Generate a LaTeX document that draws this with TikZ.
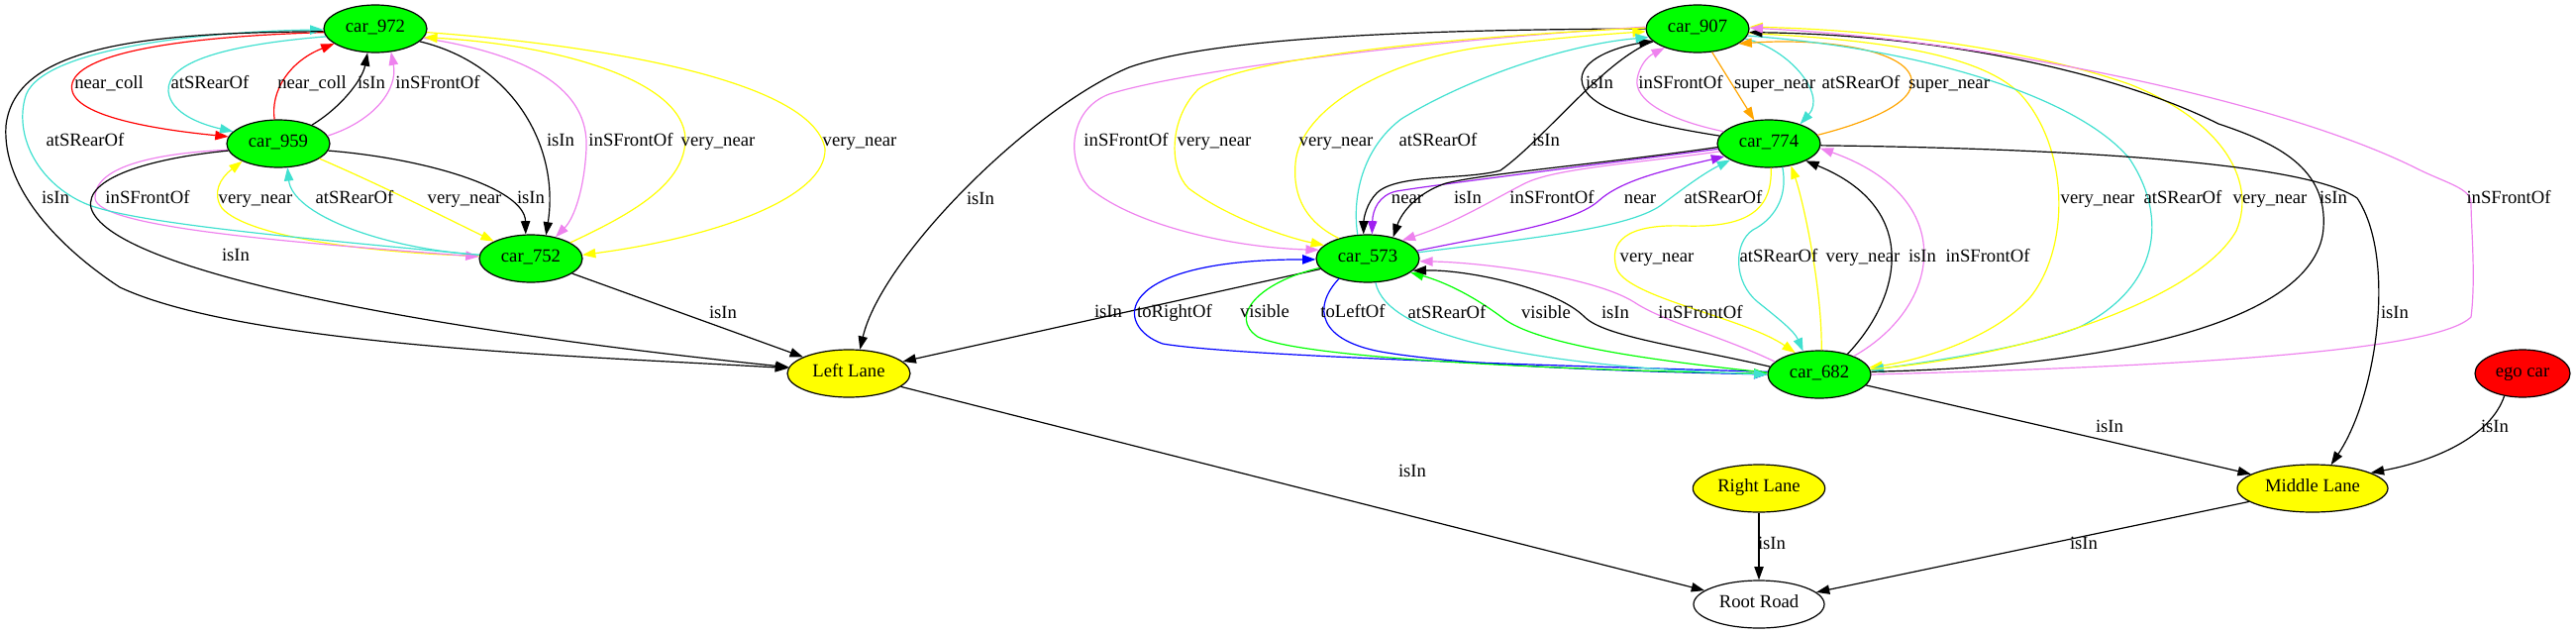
\documentclass[tikz,border=0pt]{standalone}
\usepackage{fontspec}
\setmainfont{Liberation Serif}
\usetikzlibrary{shapes.geometric,arrows.meta}
\definecolor{gvgreen}{HTML}{00FF00}
\definecolor{gvyellow}{HTML}{FFFF00}
\definecolor{gvred}{HTML}{FF0000}
\definecolor{gvturq}{HTML}{40E0D0}
\definecolor{gvviolet}{HTML}{EE82EE}
\definecolor{gvorange}{HTML}{FFA500}
\definecolor{gvpurple}{HTML}{A020F0}
\definecolor{gvblue}{HTML}{0000FF}
\tikzset{
  gvfont/.style={font=\fontsize{14pt}{16pt}\selectfont},
  gvnode/.style={ellipse, draw=black, line width=0.9pt, inner sep=0pt, minimum height=36pt, gvfont, text height=1.5ex, text depth=.25ex},
  car/.style={gvnode, fill=gvgreen, minimum width=78pt},
  lane/.style={gvnode, fill=gvyellow},
  lab/.style={gvfont, inner sep=0pt, text height=1.5ex, text depth=.25ex},
  edg/.style={-{Triangle[length=10pt,width=7pt]}, line width=0.9pt},
}
\begin{document}
\begin{tikzpicture}[x=0.75pt,y=-0.75pt]
\useasboundingbox (0,0) rectangle (2601,639);
% nodes
\node[car] (n972) at (379,29) {car\_972};
\node[car] (n959) at (281,145) {car\_959};
\node[car] (n752) at (536,261) {car\_752};
\node[lane, minimum width=93pt] (nLeft) at (857,377) {Left Lane};
\node[car] (n907) at (1714,29) {car\_907};
\node[car] (n774) at (1786,145) {car\_774};
\node[car] (n573) at (1381,261) {car\_573};
\node[car] (n682) at (1837,378) {car\_682};
\node[gvnode, fill=gvred, minimum width=72pt] (nEgo) at (2547,377) {ego car};
\node[lane, minimum width=100pt] (nRight) at (1776,493) {Right Lane};
\node[lane, minimum width=114pt] (nMiddle) at (2335,493) {Middle Lane};
\node[gvnode, fill=white, minimum width=99pt] (nRoot) at (1776,610) {Root Road};

% left cluster
\draw[edg,color=gvred] (n959.99) .. controls (273,92) and (292,62) .. (n972.200);
\draw[edg] (n959.29) .. controls (345,108) and (366,80) .. (n972.252);
\draw[edg,color=gvviolet] (n959.9) .. controls (378,122) and (402,90) .. (n972.304);
\draw[edg,color=gvred] (n972.184) .. controls (150,38) and (65,60) .. (73,92) .. controls (80,120) and (170,132) .. (n959.172);
\draw[edg,color=gvturq] (n972.189) .. controls (230,45) and (168,62) .. (170,92) .. controls (172,115) and (205,126) .. (n959.165);
\draw[edg] (n972.344) .. controls (520,65) and (565,150) .. (n752.57);
\draw[edg,color=gvviolet] (n972.349) .. controls (535,55) and (595,90) .. (592,150) .. controls (590,190) and (580,220) .. (n752.41);
\draw[edg,color=gvyellow] (n972.356) .. controls (600,45) and (820,80) .. (833,150) .. controls (835,200) and (720,240) .. (n752.4);
\draw[edg,color=gvyellow] (n752.22) .. controls (640,215) and (692,185) .. (692,140) .. controls (690,80) and (560,45) .. (n972.350);
\draw[edg] (n959.352) .. controls (430,160) and (530,190) .. (n752.102);
\draw[edg,color=gvyellow] (n959.340) .. controls (380,185) and (420,205) .. (n752.155);
\draw[edg,color=gvturq] (n752.176) .. controls (380,250) and (295,215) .. (n959.291);
\draw[edg,color=gvyellow] (n752.177) .. controls (380,256) and (250,240) .. (224,210) .. controls (214,195) and (222,180) .. (n959.206);
\draw[edg,color=gvviolet] (n959.187) .. controls (150,155) and (95,170) .. (96,200) .. controls (97,230) and (300,245) .. (n752.178);
\draw[edg,color=gvturq] (n752.176) .. controls (300,240) and (130,225) .. (85,205) .. controls (40,185) and (15,140) .. (25,100) .. controls (35,50) and (200,32) .. (n972.181);
\draw[edg] (n959.188) .. controls (150,160) and (85,180) .. (92,210) .. controls (110,270) and (400,330) .. (nLeft.174);
\draw[edg] (n972.183) .. controls (150,33) and (15,45) .. (6,127) .. controls (2,190) and (60,250) .. (121,290) .. controls (250,350) and (600,360) .. (nLeft.175);
\draw[edg] (n752) -- (nLeft);

% middle cluster
\draw[edg] (n907.180) .. controls (1400,30) and (1220,40) .. (1140,68) .. controls (1040,110) and (890,260) .. (nLeft.65);
\draw[edg] (n573) -- (nLeft);
\draw[edg,color=gvblue] (n682.177) .. controls (1600,370) and (1250,360) .. (1174,347) .. controls (1125,330) and (1120,262) .. (n573.181);
\draw[edg,color=gvblue] (n573.215) .. controls (1325,310) and (1330,345) .. (1400,356) .. controls (1500,372) and (1700,376) .. (n682.180);
\draw[edg,color=gvgreen] (n573.191) .. controls (1270,285) and (1240,320) .. (1270,340) .. controls (1320,365) and (1650,375) .. (n682.179);
\draw[edg,color=gvgreen] (n682.178) .. controls (1680,365) and (1560,350) .. (1520,323) .. controls (1490,300) and (1460,285) .. (n573.342);
\draw[edg,color=gvturq] (n573.288) .. controls (1400,340) and (1550,370) .. (n682.180);
\draw[edg] (n682.171) .. controls (1700,350) and (1620,340) .. (1600,320) .. controls (1570,290) and (1480,272) .. (n573.345);
\draw[edg,color=gvviolet] (n682.164) .. controls (1740,340) and (1680,325) .. (1650,305) .. controls (1610,280) and (1500,265) .. (n573.357);
\draw[edg,color=gvpurple] (n774.186) .. controls (1620,165) and (1460,185) .. (1410,193) .. controls (1392,197) and (1386,212) .. (n573.80);
\draw[edg] (n774.184) .. controls (1620,165) and (1500,175) .. (1460,185) .. controls (1430,195) and (1415,215) .. (n573.40);
\draw[edg,color=gvviolet] (n774.189) .. controls (1650,165) and (1570,170) .. (1540,185) .. controls (1510,200) and (1470,225) .. (n573.28);
\draw[edg,color=gvpurple] (n573.9) .. controls (1520,235) and (1590,225) .. (1615,202) .. controls (1640,180) and (1690,170) .. (n774.196);
\draw[edg,color=gvturq] (n573.7) .. controls (1550,240) and (1650,230) .. (1680,205) .. controls (1700,190) and (1720,175) .. (n774.203);
\draw[edg] (n907.196) .. controls (1620,60) and (1560,140) .. (1515,172) .. controls (1480,182) and (1410,175) .. (1390,195) .. controls (1380,205) and (1377,220) .. (n573.100);
\draw[edg] (n774.171) .. controls (1660,125) and (1598,110) .. (1597,80) .. controls (1597,60) and (1630,48) .. (n907.195);
\draw[edg,color=gvorange] (n907) -- (n774);
\draw[edg,color=gvturq] (n907.348) .. controls (1805,48) and (1845,95) .. (n774.32);
\draw[edg,color=gvorange] (n774.10) .. controls (1880,125) and (1935,105) .. (1930,80) .. controls (1925,50) and (1840,38) .. (n907.340);
\draw[edg,color=gvviolet] (n774.165) .. controls (1680,120) and (1650,100) .. (1653,80) .. controls (1655,68) and (1662,58) .. (n907.210);
\draw[edg,color=gvyellow] (n907.355) .. controls (1900,40) and (2000,55) .. (2040,95) .. controls (2090,150) and (2090,250) .. (2050,300) .. controls (2010,345) and (1930,365) .. (n682.8);
\draw[edg,color=gvturq] (n907.352) .. controls (1950,50) and (2100,100) .. (2150,160) .. controls (2190,220) and (2180,290) .. (2100,330) .. controls (2050,350) and (1950,365) .. (n682.5);
\draw[edg,color=gvyellow] (n682.6) .. controls (2050,360) and (2220,300) .. (2258,233) .. controls (2280,180) and (2240,120) .. (2150,85) .. controls (2050,50) and (1900,30) .. (n907.2);
\draw[edg] (n682.3) .. controls (2150,370) and (2340,320) .. (2346,230) .. controls (2350,170) and (2300,145) .. (2240,125) .. controls (2130,70) and (1950,35) .. (n907.356);
\draw[edg,color=gvviolet] (n682.0) .. controls (2200,370) and (2460,355) .. (2495,320) .. controls (2500,280) and (2495,230) .. (2495,205) .. controls (2495,190) and (2470,185) .. (2440,170) .. controls (2300,100) and (2000,40) .. (n907.1);
\draw[edg] (n774.358) .. controls (2100,150) and (2330,165) .. (2380,200) .. controls (2420,260) and (2400,400) .. (nMiddle.52);
\draw[edg] (n682) -- (nMiddle);
\draw[edg] (nEgo.231) .. controls (2515,440) and (2460,465) .. (nMiddle.15);
\draw[edg] (nMiddle) -- (nRoot);
\draw[edg] (nRight) -- (nRoot);
\draw[edg] (nLeft) -- (nRoot);
\draw[edg,color=gvviolet] (n907.178) .. controls (1450,40) and (1200,70) .. (1120,95) .. controls (1080,110) and (1075,160) .. (1100,190) .. controls (1150,230) and (1250,250) .. (n573.170);
\draw[edg,color=gvyellow] (n907.179) .. controls (1450,38) and (1250,60) .. (1210,90) .. controls (1180,120) and (1180,170) .. (1200,190) .. controls (1240,220) and (1300,240) .. (n573.163);
\draw[edg,color=gvyellow] (n573.145) .. controls (1320,225) and (1305,200) .. (1308,165) .. controls (1312,110) and (1400,60) .. (1500,47) .. controls (1570,38) and (1630,34) .. (n907.183);
\draw[edg,color=gvturq] (n573.113) .. controls (1365,200) and (1375,150) .. (1415,120) .. controls (1480,80) and (1580,45) .. (n907.190);
\draw[edg,color=gvyellow] (n774.275) .. controls (1790,215) and (1760,230) .. (1700,228) .. controls (1640,226) and (1625,245) .. (1632,270) .. controls (1640,300) and (1760,320) .. (n682.138);
\draw[edg,color=gvturq] (n774.300) .. controls (1806,200) and (1790,222) .. (1770,232) .. controls (1750,245) and (1750,285) .. (1775,305) .. controls (1800,325) and (1812,335) .. (n682.125);
\draw[edg,color=gvyellow] (n682.85) .. controls (1840,290) and (1820,200) .. (n774.315);
\draw[edg] (n682.36) .. controls (1920,300) and (1940,210) .. (n774.335);
\draw[edg,color=gvviolet] (n682.28) .. controls (1960,310) and (1980,200) .. (n774.355);

% labels
\node[lab] (l1) at (315,86) {near\_coll};
\node[lab] (l2) at (375,86) {isIn};
\node[lab] (l3) at (442,86) {inSFrontOf};
\node[lab] (l4) at (110,86) {near\_coll};
\node[lab] (l5) at (212,86) {atSRearOf};
\node[lab] (l6) at (566,144) {isIn};
\node[lab] (l7) at (637,144) {inSFrontOf};
\node[lab] (l8) at (868,144) {very\_near};
\node[lab] (l9) at (725,144) {very\_near};
\node[lab] (l10) at (536,202) {isIn};
\node[lab] (l11) at (469,202) {very\_near};
\node[lab] (l12) at (358,202) {atSRearOf};
\node[lab] (l13) at (258,202) {very\_near};
\node[lab] (l14) at (149,202) {inSFrontOf};
\node[lab] (l15) at (86,144) {atSRearOf};
\node[lab] (l16) at (238,260) {isIn};
\node[lab] (l17) at (56,202) {isIn};
\node[lab] (l18) at (730,318) {isIn};
\node[lab] (l19) at (990,203) {isIn};
\node[lab] (l20) at (1119,317) {isIn};
\node[lab] (l21) at (1186,317) {toRightOf};
\node[lab] (l22) at (1366,317) {toLeftOf};
\node[lab] (l23) at (1277,317) {visible};
\node[lab] (l24) at (1561,318) {visible};
\node[lab] (l25) at (1461,318) {atSRearOf};
\node[lab] (l26) at (1631,318) {isIn};
\node[lab] (l27) at (1717,318) {inSFrontOf};
\node[lab] (l28) at (1421,202) {near};
\node[lab] (l29) at (1482,202) {isIn};
\node[lab] (l30) at (1567,202) {inSFrontOf};
\node[lab] (l31) at (1656,202) {near};
\node[lab] (l32) at (1740,202) {atSRearOf};
\node[lab] (l33) at (1561,144) {isIn};
\node[lab] (l34) at (1615,86) {isIn};
\node[lab] (l35) at (1792,86) {super\_near};
\node[lab] (l36) at (1879,86) {atSRearOf};
\node[lab] (l37) at (1968,86) {super\_near};
\node[lab] (l38) at (1697,86) {inSFrontOf};
\node[lab] (l39) at (2118,202) {very\_near};
\node[lab] (l40) at (2204,202) {atSRearOf};
\node[lab] (l41) at (2292,202) {very\_near};
\node[lab] (l42) at (2356,202) {isIn};
\node[lab] (l43) at (2533,202) {inSFrontOf};
\node[lab] (l44) at (2418,318) {isIn};
\node[lab] (l45) at (2130,433) {isIn};
\node[lab] (l46) at (2519,433) {isIn};
\node[lab] (l47) at (2104,551) {isIn};
\node[lab] (l48) at (1789,551) {isIn};
\node[lab] (l49) at (1426,478) {isIn};
\node[lab] (l50) at (1137,144) {inSFrontOf};
\node[lab] (l51) at (1226,144) {very\_near};
\node[lab] (l52) at (1349,144) {very\_near};
\node[lab] (l53) at (1452,144) {atSRearOf};
\node[lab] (l54) at (1673,261) {very\_near};
\node[lab] (l55) at (1796,261) {atSRearOf};
\node[lab] (l56) at (1881,261) {very\_near};
\node[lab] (l57) at (1941,261) {isIn};
\node[lab] (l58) at (2007,261) {inSFrontOf};
\end{tikzpicture}
\end{document}
